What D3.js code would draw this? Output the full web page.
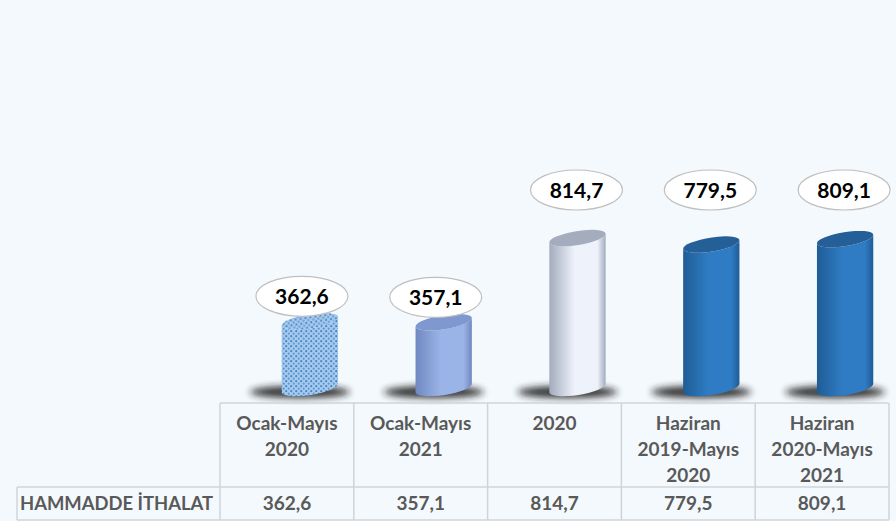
<!DOCTYPE html>
<html>
<head>
<meta charset="utf-8">
<script src="https://cdn.jsdelivr.net/npm/d3@7/dist/d3.min.js"></script>
<style>
  html, body { margin: 0; padding: 0; background: #f4f9fd; }
  svg { display: block; }
</style>
</head>
<body>
<div id="chart"></div>
<script>
// Chart data
const categories = ["Ocak-Mayıs 2020", "Ocak-Mayıs 2021", "2020", "Haziran 2019-Mayıs 2020", "Haziran 2020-Mayıs 2021"];
const headerLines = [["Ocak-Mayıs", "2020"], ["Ocak-Mayıs", "2021"], ["2020"], ["Haziran", "2019-Mayıs", "2020"], ["Haziran", "2020-Mayıs", "2021"]];
const values = [362.6, 357.1, 814.7, 779.5, 809.1];
const rowLabel = "HAMMADDE İTHALAT";

// fill style per bar: pattern / gradient ids
const barStyles = ["dots", "periwinkle", "silver", "blue", "blue"];

const width = 896, height = 521;
const tableTop = 403, headerBottom = 487, tableBottom = 520, labelLeft = 17;
const baseline = 388;

const fmt = d3.formatLocale({ decimal: ",", thousands: ".", grouping: [3], currency: ["", ""] }).format(".1f");

const svg = d3.select("#chart")
    .append("svg")
    .attr("width", width)
    .attr("height", height);

const defs = svg.append("defs");

// horizontal gradients for cylinder bodies
function bodyGradient(id, edge, mid) {
    const g = defs.append("linearGradient").attr("id", id)
        .attr("x1", "0%").attr("x2", "100%").attr("y1", "0%").attr("y2", "0%");
    g.append("stop").attr("offset", "0%").attr("stop-color", edge);
    g.append("stop").attr("offset", "45%").attr("stop-color", mid);
    g.append("stop").attr("offset", "85%").attr("stop-color", mid);
    g.append("stop").attr("offset", "100%").attr("stop-color", edge);
}
bodyGradient("g-periwinkle", "#6f88c0", "#9bb4e8");
bodyGradient("g-silver", "#a3acbd", "#eef2fb");
bodyGradient("g-blue", "#1f5c96", "#2f7cc4");

const topColors = { dots: "#7fb0e0", periwinkle: "#7f98cf", silver: "#a4adbd", blue: "#255f98" };

// dotted pattern for first bar
const pat = defs.append("pattern").attr("id", "g-dots")
    .attr("patternUnits", "userSpaceOnUse")
    .attr("width", 5).attr("height", 5);
pat.append("rect").attr("width", 5).attr("height", 5).attr("fill", "#a6cbef");
pat.append("circle").attr("cx", 1.2).attr("cy", 1.2).attr("r", 1.1).attr("fill", "#4a84c4");
pat.append("circle").attr("cx", 3.7).attr("cy", 3.7).attr("r", 1.1).attr("fill", "#5f97d2");

// shadow blur
defs.append("filter").attr("id", "blur")
    .attr("x", "-50%").attr("y", "-100%").attr("width", "200%").attr("height", "300%")
    .append("feGaussianBlur").attr("stdDeviation", 3.5);

// Scales
const x = d3.scaleBand().domain(categories).range([220, 889]).padding(0);
const y = d3.scaleLinear().domain([0, 1000]).range([baseline, 204]);

const barW = 57, rx = barW / 2, ry = 7, tilt = -9;
const depth = 23; // 3D offset of the cylinders to the right of the column centre
const rad = tilt * Math.PI / 180;
const dx = rx * Math.cos(rad), dy = rx * Math.sin(rad);

const bars = svg.append("g").selectAll("g.bar")
    .data(values)
    .join("g")
    .attr("class", "bar");

// shadow on the floor
bars.append("ellipse")
    .attr("cx", (d, i) => x(categories[i]) + x.bandwidth() / 2 + depth - 10)
    .attr("cy", baseline + 4)
    .attr("rx", 50)
    .attr("ry", 6)
    .attr("fill", "#1a1a1a")
    .attr("opacity", 0.9)
    .attr("filter", "url(#blur)");

// cylinder body
bars.append("path")
    .attr("d", (d, i) => {
        const cx = x(categories[i]) + x.bandwidth() / 2 + depth;
        const yt = y(d), yb = y(0);
        return `M${cx - dx},${yt - dy} L${cx - dx},${yb - dy} ` +
            `A${rx},${ry} ${tilt} 0 0 ${cx + dx},${yb + dy} ` +
            `L${cx + dx},${yt + dy} ` +
            `A${rx},${ry} ${tilt} 0 1 ${cx - dx},${yt - dy} Z`;
    })
    .attr("fill", (d, i) => `url(#g-${barStyles[i]})`);

// cylinder top
bars.append("ellipse")
    .attr("transform", (d, i) => {
        const cx = x(categories[i]) + x.bandwidth() / 2 + depth;
        return `translate(${cx},${y(d)}) rotate(${tilt})`;
    })
    .attr("rx", rx)
    .attr("ry", ry)
    .attr("fill", (d, i) => barStyles[i] === "dots" ? "url(#g-dots)" : topColors[barStyles[i]]);

// value callouts: just above short bars, pinned to a top line for tall bars
const labelTop = 190;
const tall = d => y(0) - y(d) > 100;
const labelY = d => (tall(d) ? labelTop : y(d) - 25);
const labels = svg.append("g").selectAll("g.label")
    .data(values)
    .join("g")
    .attr("class", "label")
    .attr("transform", (d, i) => {
        const cx = x(categories[i]) + x.bandwidth() / 2 + (tall(d) ? 22 : 15);
        return `translate(${cx},${labelY(d)})`;
    });

labels.append("ellipse")
    .attr("rx", 46)
    .attr("ry", 20)
    .attr("fill", "#ffffff")
    .attr("stroke", "#bfbfbf")
    .attr("stroke-width", 1.2);

labels.append("text")
    .attr("text-anchor", "middle")
    .attr("dy", "0.36em")
    .attr("font-family", "Lato, 'Open Sans', sans-serif")
    .attr("font-weight", "bold")
    .attr("font-size", 21)
    .attr("fill", "#000")
    .text(d => fmt(d));

// Data table
const grid = svg.append("g")
    .attr("stroke", "#d0d4d8")
    .attr("stroke-width", 1.5)
    .attr("fill", "none");

grid.append("line").attr("x1", x.range()[0]).attr("x2", x.range()[1]).attr("y1", tableTop).attr("y2", tableTop);
grid.append("line").attr("x1", labelLeft).attr("x2", x.range()[1]).attr("y1", headerBottom).attr("y2", headerBottom);
grid.append("line").attr("x1", labelLeft).attr("x2", x.range()[1]).attr("y1", tableBottom).attr("y2", tableBottom);
grid.append("line").attr("x1", labelLeft).attr("x2", labelLeft).attr("y1", headerBottom).attr("y2", tableBottom);
grid.selectAll("line.col")
    .data(categories.map(c => x(c)).concat([x.range()[1]]))
    .join("line")
    .attr("class", "col")
    .attr("x1", d => d).attr("x2", d => d)
    .attr("y1", tableTop).attr("y2", tableBottom);

const table = svg.append("g")
    .attr("font-family", "Lato, 'Open Sans', sans-serif")
    .attr("font-weight", "bold")
    .attr("font-size", 19)
    .attr("fill", "#595959");

// header cells
table.selectAll("text.head")
    .data(categories)
    .join("text")
    .attr("class", "head")
    .attr("text-anchor", "middle")
    .attr("x", d => x(d) + x.bandwidth() / 2)
    .attr("y", 430)
    .each(function (d, i) {
        d3.select(this).selectAll("tspan")
            .data(headerLines[i])
            .join("tspan")
            .attr("x", x(d) + x.bandwidth() / 2)
            .attr("dy", (t, j) => j === 0 ? 0 : 26)
            .text(t => t);
    });

// value cells
table.selectAll("text.val")
    .data(values)
    .join("text")
    .attr("class", "val")
    .attr("text-anchor", "middle")
    .attr("x", (d, i) => x(categories[i]) + x.bandwidth() / 2)
    .attr("y", 510)
    .text(d => fmt(d));

// row label
table.append("text")
    .attr("x", 20)
    .attr("y", 510)
    .attr("font-size", 18.4)
    .text(rowLabel);
</script>
</body>
</html>
